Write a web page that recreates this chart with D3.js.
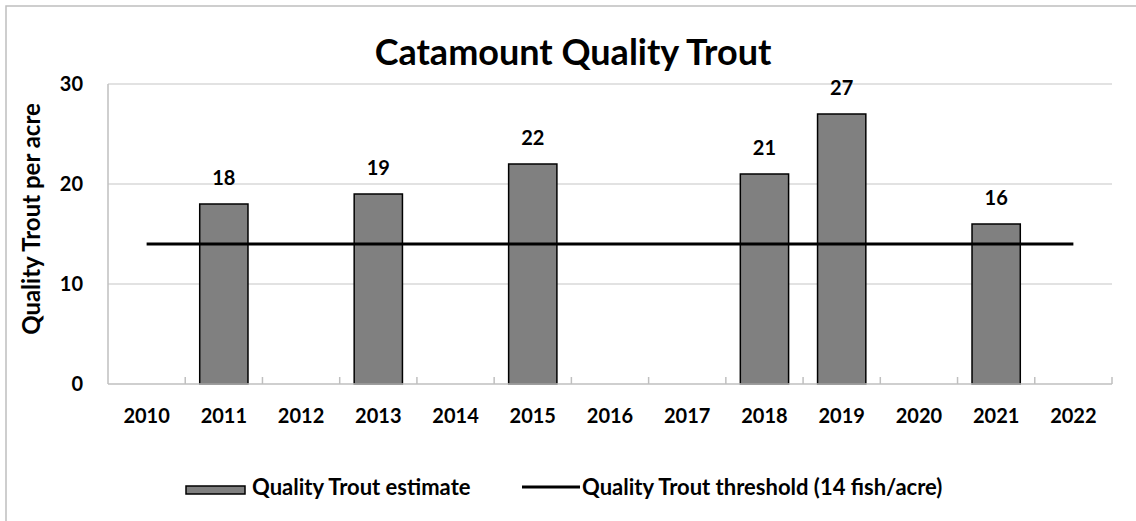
<!DOCTYPE html>
<html>
<head>
<meta charset="utf-8">
<script src="https://cdn.jsdelivr.net/npm/d3@7"></script>
<style>
  body { margin: 0; background: #fff; }
  text { font-family: Lato, "Open Sans", sans-serif; font-weight: bold; fill: #000; }
</style>
</head>
<body>
<div id="chart"></div>
<script>
const years = ["2010","2011","2012","2013","2014","2015","2016","2017","2018","2019","2020","2021","2022"];
const estimate = [null, 18, null, 19, null, 22, null, null, 21, 27, null, 16, null];
const threshold = 14;
const yTicks = [0, 10, 20, 30];

const W = 1136, H = 521;
const margin = {top: 84, right: 24, bottom: 137, left: 108};
const width = W - margin.left - margin.right,
      height = H - margin.top - margin.bottom;

const root = d3.select("#chart").append("svg")
    .attr("width", W).attr("height", H);

// outer chart border (only top and left visible)
root.append("path")
    .attr("d", `M6,${H} L6,6 L${W},6`)
    .attr("fill", "none").attr("stroke", "#bfbfbf").attr("stroke-width", 1.5);

root.append("text")
    .attr("x", 573).attr("y", 65)
    .attr("text-anchor", "middle")
    .style("font-size", "36px")
    .text("Catamount Quality Trout");

const svg = root.append("g")
    .attr("transform", `translate(${margin.left},${margin.top})`);

const x = d3.scaleBand().domain(years).range([0, width]).paddingInner(0.375).paddingOuter(0.1875);
const xb = d3.scaleBand().domain(years).range([0, width]);
const y = d3.scaleLinear().domain([0, 30]).range([height, 0]);

// gridlines
svg.append("g").selectAll("line")
  .data(yTicks.filter(d => d > 0))
  .join("line")
    .attr("x1", 0).attr("x2", width)
    .attr("y1", d => y(d)).attr("y2", d => y(d))
    .attr("stroke", "#d9d9d9").attr("stroke-width", 1.5);

// y axis line
svg.append("line")
    .attr("x1", 0).attr("x2", 0).attr("y1", 0).attr("y2", height)
    .attr("stroke", "#bfbfbf").attr("stroke-width", 1.5);

// y tick labels
svg.append("g").selectAll("text")
  .data(yTicks)
  .join("text")
    .attr("x", -25).attr("y", d => y(d))
    .attr("dy", "0.35em")
    .attr("text-anchor", "end")
    .style("font-size", "20px")
    .text(d => d);

// bars
const data = years.map((yr, i) => ({year: yr, value: estimate[i]})).filter(d => d.value != null);
svg.append("g").selectAll("rect")
  .data(data)
  .join("rect")
    .attr("x", d => x(d.year))
    .attr("y", d => y(d.value))
    .attr("width", x.bandwidth())
    .attr("height", d => height - y(d.value))
    .attr("fill", "#808080")
    .attr("stroke", "#000").attr("stroke-width", 1.5);

// x axis line + ticks at band boundaries
svg.append("line")
    .attr("x1", 0).attr("x2", width).attr("y1", height).attr("y2", height)
    .attr("stroke", "#bfbfbf").attr("stroke-width", 1.5);
svg.append("g").selectAll("line")
  .data(years.slice(1).concat(["end"]))
  .join("line")
    .attr("x1", d => d === "end" ? width : xb(d))
    .attr("x2", d => d === "end" ? width : xb(d))
    .attr("y1", height).attr("y2", height - 7)
    .attr("stroke", "#bfbfbf").attr("stroke-width", 1.5);

// threshold line
svg.append("line")
    .attr("x1", xb(years[0]) + xb.bandwidth() / 2)
    .attr("x2", xb(years[years.length - 1]) + xb.bandwidth() / 2)
    .attr("y1", y(threshold)).attr("y2", y(threshold))
    .attr("stroke", "#000").attr("stroke-width", 3);

// data labels
svg.append("g").selectAll("text")
  .data(data)
  .join("text")
    .attr("x", d => x(d.year) + x.bandwidth() / 2)
    .attr("y", d => y(d.value) - 19)
    .attr("text-anchor", "middle")
    .style("font-size", "20px")
    .text(d => d.value);

// x labels
svg.append("g").selectAll("text")
  .data(years)
  .join("text")
    .attr("x", d => xb(d) + xb.bandwidth() / 2)
    .attr("y", height + 39)
    .attr("text-anchor", "middle")
    .style("font-size", "20px")
    .text(d => d);

// y axis title
root.append("text")
    .attr("transform", "translate(40,219) rotate(-90)")
    .attr("text-anchor", "middle")
    .style("font-size", "24px")
    .text("Quality Trout per acre");

// legend
const lg = root.append("g");
lg.append("rect")
    .attr("x", 186).attr("y", 486).attr("width", 59).attr("height", 8)
    .attr("fill", "#808080").attr("stroke", "#000").attr("stroke-width", 1.5);
lg.append("text").attr("x", 252).attr("y", 495)
    .style("font-size", "22px").text("Quality Trout estimate");
lg.append("line")
    .attr("x1", 522).attr("x2", 580).attr("y1", 487).attr("y2", 487)
    .attr("stroke", "#000").attr("stroke-width", 3);
lg.append("text").attr("x", 582).attr("y", 495)
    .style("font-size", "22px").text("Quality Trout threshold (14 fish/acre)");
</script>
</body>
</html>
